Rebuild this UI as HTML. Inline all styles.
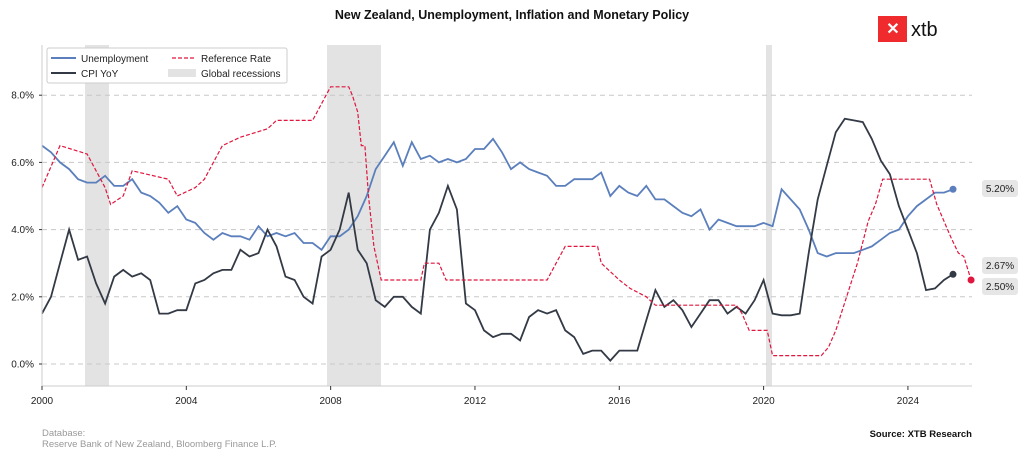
<!DOCTYPE html>
<html><head><meta charset="utf-8"><style>
html,body{margin:0;padding:0;background:#fff;}
svg{display:block;font-family:"Liberation Sans",Arial,sans-serif;}
</style></head><body>
<svg id="c" width="1024" height="460" viewBox="0 0 1024 460" xmlns="http://www.w3.org/2000/svg">
<rect width="1024" height="460" fill="#fff"/>
<text x="512" y="19" text-anchor="middle" font-size="12.5" font-weight="bold" fill="#111">New Zealand, Unemployment, Inflation and Monetary Policy</text>
<!-- logo -->
<rect x="878" y="16" width="29" height="26" fill="#ef2b2d"/>
<text x="893" y="34" text-anchor="middle" font-size="16" fill="#fff" font-weight="bold">✕</text>
<text x="911" y="36" font-size="20" fill="#111">xtb</text>
<!-- recessions -->
<rect x="85" y="45" width="24" height="341" fill="#e3e3e3"/>
<rect x="327" y="45" width="54" height="341" fill="#e3e3e3"/>
<rect x="766" y="45" width="6" height="341" fill="#e3e3e3"/>
<g id="grid" stroke="#c8c8c8" stroke-dasharray="5,4" stroke-width="1"></g>
<g id="series"></g>
<!-- axes -->
<line x1="42" y1="45" x2="42" y2="386" stroke="#ccc"/>
<line x1="42" y1="386" x2="972" y2="386" stroke="#ccc"/>
<g id="ticks" font-size="10" fill="#222"></g>
<!-- legend -->
<rect x="47" y="48" width="240" height="35" fill="#fff" stroke="#ccc" rx="2"/>
<line x1="51" y1="58" x2="76" y2="58" stroke="#5b7fbc" stroke-width="2"/>
<text x="81" y="62" font-size="10" fill="#222">Unemployment</text>
<line x1="51" y1="73" x2="76" y2="73" stroke="#333a45" stroke-width="2"/>
<text x="81" y="77" font-size="10" fill="#222">CPI YoY</text>
<line x1="172" y1="58" x2="196" y2="58" stroke="#e0163e" stroke-width="1.2" stroke-dasharray="4,2"/>
<text x="201" y="62" font-size="10" fill="#222">Reference Rate</text>
<rect x="168" y="69" width="28" height="8" fill="#e3e3e3"/>
<text x="201" y="77" font-size="10" fill="#222">Global recessions</text>
<!-- end labels -->
<rect x="982" y="180" width="36" height="17" rx="3" fill="#e6e6e6"/>
<text x="1000" y="192" text-anchor="middle" font-size="10" fill="#222">5.20%</text>
<rect x="982" y="257" width="36" height="17" rx="3" fill="#e6e6e6"/>
<text x="1000" y="269" text-anchor="middle" font-size="10" fill="#222">2.67%</text>
<rect x="982" y="278" width="36" height="17" rx="3" fill="#e6e6e6"/>
<text x="1000" y="290" text-anchor="middle" font-size="10" fill="#222">2.50%</text>
<text x="42" y="436" font-size="9.5" fill="#999">Database:</text>
<text x="42" y="447" font-size="9.5" fill="#999">Reserve Bank of New Zealand, Bloomberg Finance L.P.</text>
<text x="972" y="437" text-anchor="end" font-size="9.5" font-weight="bold" fill="#111">Source: XTB Research</text>
</svg>
<script>
var NS="http://www.w3.org/2000/svg";
function X(t){return 42+(t-2000)*36.08;}
function Y(v){return 364-v*33.6;}
function el(n,a,p){var e=document.createElementNS(NS,n);for(var k in a)e.setAttribute(k,a[k]);p.appendChild(e);return e;}
var g=document.getElementById('grid'),tk=document.getElementById('ticks');
[0,2,4,6,8].forEach(function(v){el('line',{x1:42,x2:972,y1:Y(v),y2:Y(v)},g);
 el('line',{x1:39,x2:42,y1:Y(v),y2:Y(v),stroke:'#333'},tk);
 var t=el('text',{x:34,y:Y(v)+3.5,'text-anchor':'end'},tk);t.textContent=v.toFixed(1)+'%';});
[2000,2004,2008,2012,2016,2020,2024].forEach(function(y){
 el('line',{x1:X(y),x2:X(y),y1:386,y2:390,stroke:'#333'},tk);
 var t=el('text',{x:X(y),y:404,'text-anchor':'middle'},tk);t.textContent=y;});
var U=[6.5,6.3,6.0,5.8,5.5,5.4,5.4,5.6,5.3,5.3,5.5,5.1,5.0,4.8,4.5,4.7,4.3,4.2,3.9,3.7,3.9,3.8,3.8,3.7,4.1,3.8,3.9,3.8,3.9,3.6,3.6,3.4,3.8,3.8,4.0,4.4,5.0,5.8,6.2,6.6,5.9,6.6,6.1,6.2,6.0,6.1,6.0,6.1,6.4,6.4,6.7,6.3,5.8,6.0,5.8,5.7,5.6,5.3,5.3,5.5,5.5,5.5,5.7,5.0,5.3,5.1,5.0,5.3,4.9,4.9,4.7,4.5,4.4,4.6,4.0,4.3,4.2,4.1,4.1,4.1,4.2,4.1,5.2,4.9,4.6,4.0,3.3,3.2,3.3,3.3,3.3,3.4,3.5,3.7,3.9,4.0,4.4,4.7,4.9,5.1,5.1,5.2];
var C=[1.5,2.0,3.0,4.0,3.1,3.2,2.4,1.8,2.6,2.8,2.6,2.7,2.5,1.5,1.5,1.6,1.6,2.4,2.5,2.7,2.8,2.8,3.4,3.2,3.3,4.0,3.5,2.6,2.5,2.0,1.8,3.2,3.4,4.0,5.1,3.4,3.0,1.9,1.7,2.0,2.0,1.7,1.5,4.0,4.5,5.3,4.6,1.8,1.6,1.0,0.8,0.9,0.9,0.7,1.4,1.6,1.5,1.6,1.0,0.8,0.3,0.4,0.4,0.1,0.4,0.4,0.4,1.3,2.2,1.7,1.9,1.6,1.1,1.5,1.9,1.9,1.5,1.7,1.5,1.9,2.5,1.5,1.45,1.45,1.5,3.3,4.9,5.9,6.9,7.3,7.25,7.2,6.7,6.05,5.65,4.7,4.0,3.3,2.2,2.25,2.5,2.67];
var R=[[2000,5.25],[2000.5,6.5],[2001.25,6.25],[2001.5,5.75],[2001.75,5.25],[2001.9,4.75],[2002.25,5.0],[2002.5,5.75],[2003.5,5.5],[2003.75,5.0],[2004.25,5.25],[2004.5,5.5],[2005,6.5],[2005.5,6.75],[2006.25,7.0],[2006.5,7.25],[2007.5,7.25],[2008,8.25],[2008.5,8.25],[2008.6,8.0],[2008.75,7.5],[2008.85,6.5],[2008.95,6.5],[2009.05,5.0],[2009.2,3.5],[2009.4,2.5],[2010.5,2.5],[2010.6,3.0],[2011.0,3.0],[2011.2,2.5],[2014,2.5],[2014.25,3.0],[2014.5,3.5],[2015.4,3.5],[2015.5,3.0],[2015.75,2.75],[2016,2.5],[2016.3,2.25],[2016.75,2.0],[2017,1.75],[2019.25,1.75],[2019.4,1.5],[2019.6,1.0],[2020.1,1.0],[2020.25,0.25],[2021.6,0.25],[2021.8,0.5],[2022,1.0],[2022.3,2.0],[2022.6,3.0],[2022.9,4.25],[2023.1,4.75],[2023.3,5.5],[2024.6,5.5],[2024.8,4.75],[2025.0,4.25],[2025.2,3.75],[2025.4,3.3],[2025.55,3.2],[2025.75,2.5]];
var s=document.getElementById('series');
function pts(a){return a.map(function(v,i){return X(2000+i*0.25).toFixed(1)+','+Y(v).toFixed(1)}).join(' ');}
el('polyline',{points:pts(U),fill:'none',stroke:'#5b7fbc','stroke-width':1.8},s);
el('polyline',{points:pts(C),fill:'none',stroke:'#333a45','stroke-width':1.8},s);
el('polyline',{points:R.map(function(p){return X(p[0]).toFixed(1)+','+Y(p[1]).toFixed(1)}).join(' '),fill:'none',stroke:'#e0163e','stroke-width':1.2,'stroke-dasharray':'4,2'},s);
el('circle',{cx:X(2025.25),cy:Y(5.2),r:3.5,fill:'#5b7fbc'},s);
el('circle',{cx:X(2025.25),cy:Y(2.67),r:3.5,fill:'#333a45'},s);
el('circle',{cx:X(2025.75),cy:Y(2.5),r:3.5,fill:'#e0163e'},s);
</script>
</body></html>
